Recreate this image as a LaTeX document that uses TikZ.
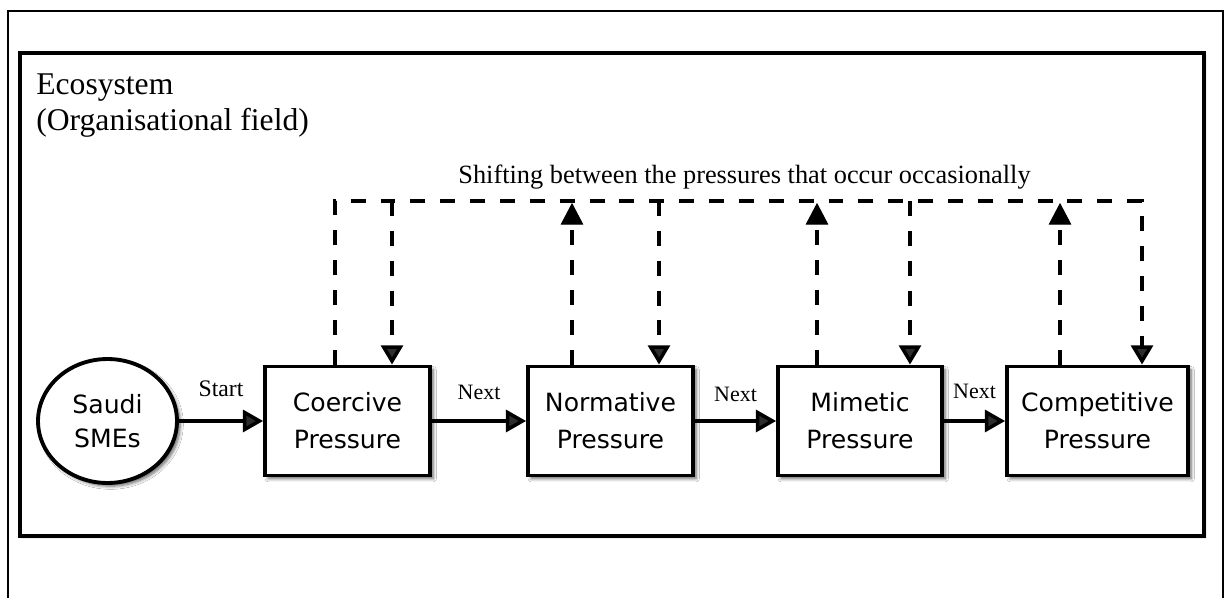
\documentclass[tikz,border=0pt]{standalone}
\usepackage{fontspec}
\setmainfont{Liberation Serif}
\newfontfamily\boxfont{DejaVu Sans}
\usetikzlibrary{arrows.meta,shadows.blur,shapes.geometric,calc}
\begin{document}
\begin{tikzpicture}[x=0.02cm,y=-0.02cm,
  outerframe/.style={line width=1.2pt},
  shd/.style={blur shadow={shadow xshift=1.8pt,shadow yshift=-1.8pt,shadow blur radius=1.8pt,shadow blur steps=6,shadow opacity=60}},
  field/.style={draw,fill=white,line width=2pt,blur shadow={shadow xshift=0.9pt,shadow yshift=-0.9pt,shadow blur radius=0.9pt,shadow blur steps=3,shadow opacity=35}},
  procbox/.style={draw,line width=2.2pt,fill=white,shd,minimum height=2.18cm,inner sep=0pt,align=center,
    font=\boxfont\fontsize{14.3}{21}\selectfont},
  startnode/.style={draw,ellipse,line width=2.2pt,fill=white,shd,minimum width=2.78cm,minimum height=2.48cm,inner sep=0pt,align=center,
    font=\boxfont\fontsize{14.3}{19.5}\selectfont},
  arr/.style={line width=2pt,-{Triangle[length=11.5pt,width=12.5pt]}},
  dshline/.style={line width=2pt,dash pattern=on 8.5pt off 8.5pt},
  dsh/.style={dshline,-{Triangle[length=11pt,width=12.5pt]}},
  uptip/.style={fill=black,draw=black,line width=0.6pt,line join=miter},
  lbl/.style={font=\fontsize{12.5}{14}\selectfont,anchor=base,inner sep=0pt},
  ttl/.style={font=\fontsize{18}{21}\selectfont,anchor=base west,inner sep=0pt},
  note/.style={font=\fontsize{15}{18}\selectfont,anchor=base,inner sep=0pt}
]
\useasboundingbox (0,0) rectangle (1226,598);
% outer frame (bottom edge outside the picture)
\draw[outerframe] (8,598) -- (8,11) -- (1223,11) -- (1223,598);
% organisational field
\path[field] (20,53) rectangle (1204,536);
\node[ttl] (eco) at (36,94) {Ecosystem};
\node[ttl] (org) at (36,131) {(Organisational field)};

% nodes
\node[startnode] (sme) at (107.5,421) {Saudi\\SMEs};
\node[procbox,minimum width=3.3cm] (coe) at (347.5,421) {Coercive\\Pressure};
\node[procbox,minimum width=3.3cm] (nor) at (610.5,421) {Normative\\Pressure};
\node[procbox,minimum width=3.28cm] (mim) at (860,421) {Mimetic\\Pressure};
\node[procbox,minimum width=3.62cm] (com) at (1097.5,421) {Competitive\\Pressure};

% main flow
\draw[arr] (sme) -- node[lbl,yshift=14pt,font=\fontsize{13.5}{15}\selectfont]{Start} (coe);
\draw[arr] (coe) -- node[lbl,yshift=12pt]{Next} (nor);
\draw[arr] (nor) -- node[lbl,yshift=11pt]{Next} (mim);
\draw[arr] (mim) -- node[lbl,yshift=13pt]{Next} (com);

% shifting feedback
\node[note] (shift) at (744.5,183) {Shifting between the pressures that occur occasionally};
\coordinate (tl) at (335,201);
\coordinate (tr) at (1142,201);
\coordinate (d1) at (392,201);
\coordinate (u2) at (572,204);
\coordinate (d2) at (659,201);
\coordinate (u3) at (817,204);
\coordinate (d3) at (910,201);
\coordinate (u4) at (1060,204);
\draw[dsh] (tl |- coe.north) -- (tl) -- (tr) -- (tr |- com.north);
\draw[dsh] (d1) -- (d1 |- coe.north);
\draw[dsh] (d2) -- (d2 |- nor.north);
\draw[dsh] (d3) -- (d3 |- mim.north);
\foreach \u/\b in {u2/nor,u3/mim,u4/com}{
  \draw[dshline] (\u |- \b.north) -- ($(\u)+(0,20)$);
  \path[uptip] (\u) -- ($(\u)+(-10.5,20)$) -- ($(\u)+(10.5,20)$) -- cycle;
}
\end{tikzpicture}
\end{document}
